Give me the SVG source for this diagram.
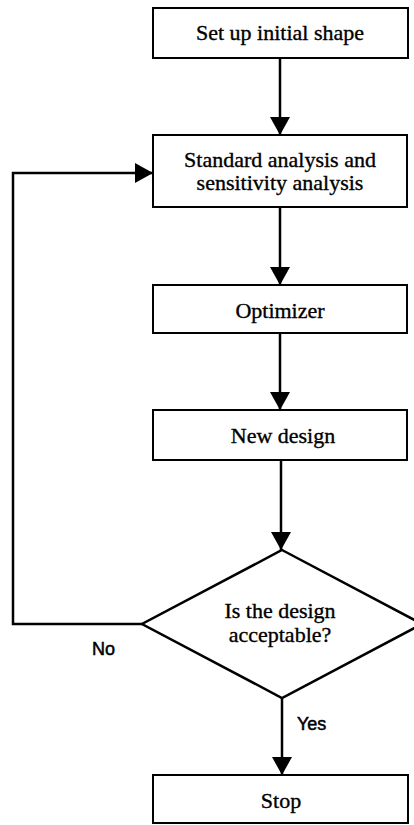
<svg xmlns="http://www.w3.org/2000/svg" width="414" height="825" viewBox="0 0 414 825">
  <style>
    .box { fill: #fff; stroke: #000; stroke-width: 2; }
    .t { font-family: "Liberation Serif", "Times New Roman", serif; font-size: 22px; fill: #000; stroke: #000; stroke-width: 0.35; text-anchor: middle; }
    .lbl { font-family: "Liberation Sans", Arial, sans-serif; font-size: 18px; fill: #000; stroke: #000; stroke-width: 0.5; }
    .conn { fill: none; stroke: #000; stroke-width: 2.5; }
  </style>
  <defs>
    <marker id="arrow" markerUnits="userSpaceOnUse" markerWidth="20" markerHeight="20" refX="18" refY="10" orient="auto">
      <path d="M0,0 L18,10 L0,20 Z" fill="#000"/>
    </marker>
  </defs>
  <rect width="414" height="825" fill="#fff"/>

  <g id="connectors">
    <line class="conn" x1="280" y1="58" x2="280" y2="135" marker-end="url(#arrow)"/>
    <line class="conn" x1="280" y1="207" x2="280" y2="285" marker-end="url(#arrow)"/>
    <line class="conn" x1="280" y1="333" x2="280" y2="410" marker-end="url(#arrow)"/>
    <line class="conn" x1="281" y1="460" x2="281" y2="550" marker-end="url(#arrow)"/>
    <line class="conn" x1="282" y1="698" x2="282" y2="775" marker-end="url(#arrow)"/>
    <polyline class="conn" points="142,624 13,624 13,173 153,173" marker-end="url(#arrow)"/>
  </g>

  <g id="n-setup">
    <rect class="box" x="153" y="8" width="255" height="50"/>
    <text class="t" x="280" y="40">Set up initial shape</text>
  </g>
  <g id="n-analysis">
    <rect class="box" x="153" y="135" width="254" height="72"/>
    <text class="t" x="280" y="167">Standard analysis and</text>
    <text class="t" x="280" y="190">sensitivity analysis</text>
  </g>
  <g id="n-optimizer">
    <rect class="box" x="153" y="285" width="254" height="48"/>
    <text class="t" x="280" y="318">Optimizer</text>
  </g>
  <g id="n-newdesign">
    <rect class="box" x="153" y="410" width="254" height="50"/>
    <text class="t" x="283" y="443">New design</text>
  </g>
  <g id="n-decision">
    <polygon points="282,550 422,624 282,698 142,624" fill="#fff" stroke="#000" stroke-width="2.5"/>
    <text class="t" x="280" y="618">Is the design</text>
    <text class="t" x="280" y="642">acceptable?</text>
  </g>
  <g id="n-stop">
    <rect class="box" x="153" y="775" width="255" height="48"/>
    <text class="t" x="281" y="808">Stop</text>
  </g>

  <g id="labels">
    <text class="lbl" x="92" y="655">No</text>
    <text class="lbl" x="297" y="730">Yes</text>
  </g>
</svg>
